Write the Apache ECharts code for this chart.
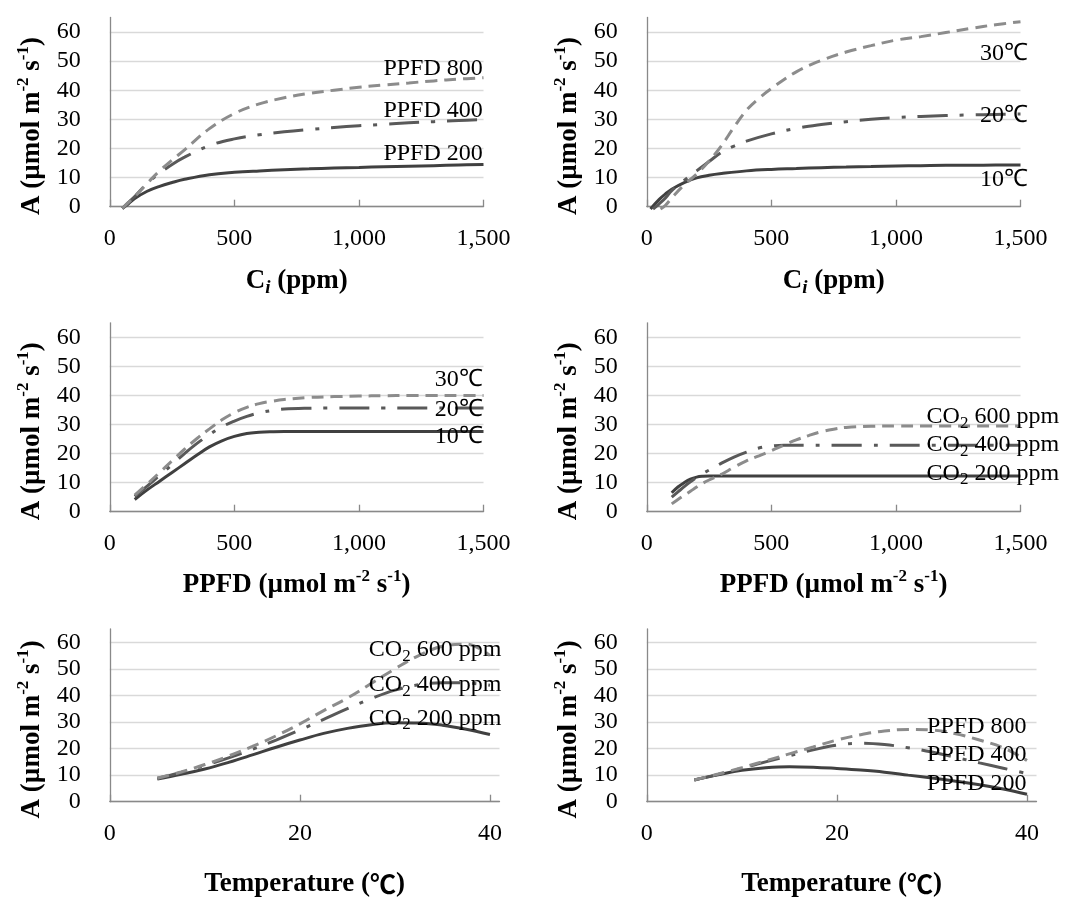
<!DOCTYPE html>
<html><head><meta charset="utf-8">
<script src="https://cdn.jsdelivr.net/npm/echarts@6/dist/echarts.min.js"></script>
<style>html,body{margin:0;padding:0;background:#fff}#c{width:1074px;height:900px}</style>
</head><body><div id="c"></div>
<script>
// ---------- DATA ----------
// Panel a: A vs Ci at three PPFD levels
const ciA      = [50, 75, 100, 150, 200, 250, 300, 400, 500, 600, 700, 800, 900, 1000, 1100, 1200, 1300, 1400, 1500];
const aPPFD200 = [-0.6, 1.0, 2.8, 5.3, 7.0, 8.3, 9.4, 11.0, 11.8, 12.3, 12.7, 13.0, 13.3, 13.5, 13.7, 13.9, 14.1, 14.3, 14.5];
const aPPFD400 = [-0.6, 1.5, 3.5, 8.0, 11.5, 14.5, 17.0, 21.0, 23.3, 24.7, 25.7, 26.5, 27.2, 27.8, 28.3, 28.8, 29.2, 29.6, 29.9];
const aPPFD800 = [-0.6, 1.5, 3.5, 8.0, 12.3, 16.0, 19.5, 26.8, 32.0, 35.3, 37.4, 38.9, 40.0, 41.0, 41.8, 42.5, 43.2, 43.8, 44.3];
const labelsA  = ['PPFD 200', 'PPFD 400', 'PPFD 800'];
const labelYA  = [18.3, 33.1, 47.4];

// Panel b: A vs Ci at three temperatures
const ciB10 = [15, 50, 75, 100, 150, 200, 250, 300, 400, 500, 600, 700, 800, 900, 1000, 1100, 1200, 1300, 1400, 1500];
const bT10  = [-0.8, 2.5, 4.4, 6.0, 8.3, 9.9, 10.8, 11.4, 12.3, 12.8, 13.1, 13.4, 13.6, 13.8, 14.0, 14.1, 14.2, 14.2, 14.3, 14.3];
const ciB20 = [25, 50, 75, 100, 150, 200, 250, 300, 350, 400, 500, 600, 700, 800, 900, 1000, 1100, 1200, 1300, 1400, 1500];
const bT20  = [-0.8, 1.0, 3.0, 5.5, 9.0, 12.3, 15.5, 18.7, 20.8, 22.5, 25.0, 26.9, 28.2, 29.2, 30.0, 30.6, 31.0, 31.3, 31.5, 31.7, 31.8];
const ciB30 = [55, 75, 100, 150, 200, 250, 300, 350, 400, 450, 500, 600, 700, 800, 900, 1000, 1100, 1200, 1300, 1400, 1500];
const bT30  = [-0.8, 0.5, 3.0, 7.5, 11.2, 15.7, 21.0, 27.3, 33.1, 37.2, 40.6, 46.3, 50.2, 53.1, 55.3, 57.2, 58.4, 59.8, 61.2, 62.5, 63.5];
const labelsB = ['10℃', '20℃', '30℃'];
const labelYB = [9.1, 31.4, 52.6];

// Panel c: A vs PPFD at three temperatures
const ppfdC = [100, 150, 200, 250, 300, 350, 400, 450, 500, 550, 600, 650, 700, 800, 900, 1000, 1100, 1200, 1300, 1400, 1500];
const cT10  = [4.2, 7.5, 10.5, 13.5, 16.5, 19.5, 22.3, 24.4, 25.9, 26.9, 27.3, 27.5, 27.6, 27.6, 27.6, 27.6, 27.6, 27.6, 27.6, 27.6, 27.6];
const cT20  = [5.3, 8.8, 12.5, 16.2, 20.0, 23.5, 26.5, 29.2, 31.2, 32.8, 34.0, 34.8, 35.3, 35.6, 35.7, 35.7, 35.7, 35.7, 35.7, 35.7, 35.7];
const cT30  = [5.7, 9.5, 13.5, 17.5, 21.5, 25.2, 28.5, 31.6, 34.1, 35.9, 37.2, 38.0, 38.6, 39.3, 39.6, 39.8, 39.9, 40.0, 40.0, 40.0, 40.0];
const labelsC = ['10℃', '20℃', '30℃'];
const labelYC = [25.8, 35.0, 45.3];

// Panel d: A vs PPFD at three CO2 levels
const ppfdD    = [100, 125, 150, 175, 200, 225, 250, 300, 350, 400, 450, 500, 550, 600, 650, 700, 750, 800, 900, 1000, 1100, 1200, 1300, 1400, 1500];
const dCO2_200 = [6.5, 8.5, 10.0, 11.2, 11.9, 12.2, 12.3, 12.3, 12.3, 12.3, 12.3, 12.3, 12.3, 12.3, 12.3, 12.3, 12.3, 12.3, 12.3, 12.3, 12.3, 12.3, 12.3, 12.3, 12.3];
const dCO2_400 = [5.0, 6.8, 8.6, 10.3, 11.8, 13.2, 14.3, 16.7, 18.8, 20.5, 21.9, 22.6, 22.9, 22.9, 22.9, 22.9, 22.9, 22.9, 22.9, 22.9, 22.9, 22.9, 22.9, 22.9, 22.9];
const dCO2_600 = [2.7, 4.2, 5.6, 7.0, 8.5, 9.8, 10.9, 12.9, 15.3, 17.5, 19.2, 21.0, 22.9, 24.7, 26.2, 27.5, 28.4, 29.0, 29.4, 29.5, 29.5, 29.5, 29.5, 29.5, 29.5];
const labelsD = ['CO2 200 ppm', 'CO2 400 ppm', 'CO2 600 ppm'];
const labelYD = [13.2, 23.0, 32.7];

// Panel e: A vs temperature at three CO2 levels
const tempE    = [5, 7.5, 10, 12.5, 15, 17.5, 20, 22.5, 25, 27.5, 30, 32.5, 35, 37.5, 40];
const eCO2_200 = [8.5, 10.3, 12.3, 14.8, 17.6, 20.5, 23.2, 25.7, 27.6, 29.0, 29.7, 29.6, 28.8, 27.3, 25.3];
const eCO2_400 = [8.8, 11.0, 13.6, 16.5, 19.7, 23.2, 27.0, 31.0, 35.0, 38.8, 42.0, 44.0, 44.8, 44.7, 43.8];
const eCO2_600 = [8.8, 11.2, 14.0, 17.2, 20.8, 24.8, 29.3, 34.3, 39.0, 44.5, 50.0, 55.0, 58.5, 59.3, 55.0];
const labelsE = ['CO2 200 ppm', 'CO2 400 ppm', 'CO2 600 ppm'];
const labelYE = [31.4, 43.9, 57.1];

// Panel f: A vs temperature at three PPFD levels
const tempF    = [5, 7.5, 10, 12.5, 15, 17.5, 20, 22.5, 25, 27.5, 30, 32.5, 35, 37.5, 40];
const fPPFD200 = [8.2, 10.1, 11.8, 12.8, 13.2, 13.0, 12.5, 11.9, 11.1, 10.0, 8.9, 7.7, 6.4, 4.8, 2.8];
const fPPFD400 = [8.2, 10.3, 12.6, 15.0, 17.3, 19.5, 21.3, 22.0, 21.5, 20.3, 18.7, 16.7, 14.6, 12.6, 10.6];
const fPPFD800 = [8.2, 10.4, 12.8, 15.4, 18.0, 20.6, 23.2, 25.2, 26.6, 27.2, 27.0, 25.6, 23.2, 20.3, 15.5];
const labelsF = ['PPFD 200', 'PPFD 400', 'PPFD 800'];
const labelYF = [6.9, 17.6, 28.2];

// Axis tick labels / ranges
const yTicks = [0, 10, 20, 30, 40, 50, 60];
const xTicksPPFD = [0, 500, 1000, 1500];
const xTicksTemp = [0, 20, 40];

// ---------- LAYOUT / STYLE ----------
const FONT = 'Liberation Serif';
const styles = [
  {color: '#404040', type: 'solid'},
  {color: '#595959', type: [30, 12, 4, 12]},
  {color: '#8c8c8c', type: [12, 7]}
];
const grids = [
  {left: 109.8, top: 17.4, width: 373.7, height: 189.3},
  {left: 646.8, top: 17.4, width: 373.7, height: 189.3},
  {left: 109.8, top: 322.8, width: 373.7, height: 188.9},
  {left: 646.8, top: 322.8, width: 373.7, height: 188.9},
  {left: 109.8, top: 629.0, width: 389.7, height: 172.7},
  {left: 646.8, top: 629.0, width: 389.7, height: 172.7}
];
const nameRich = {
  b:   {fontFamily: FONT, fontWeight: 'bold', fontSize: 27, lineHeight: 34, color: '#000'},
  sup: {fontFamily: FONT, fontWeight: 'bold', fontSize: 17, lineHeight: 18, verticalAlign: 'top', color: '#000'},
  sub: {fontFamily: FONT, fontWeight: 'bold', fontStyle: 'italic', fontSize: 19, lineHeight: 16, verticalAlign: 'bottom', color: '#000'},
  deg: {fontFamily: 'Noto Sans CJK JP', fontWeight: 'bold', fontSize: 26, lineHeight: 34, color: '#000'}
};
const labelRich = {
  n: {fontFamily: FONT, fontSize: 24, lineHeight: 30, color: '#000'},
  s: {fontFamily: FONT, fontSize: 17, lineHeight: 15, verticalAlign: 'bottom', color: '#000'}
};
function richLabel(t) {
  if (t.indexOf('CO2') === 0) return '{n|CO}{s|2}{n|' + t.slice(3) + '}';
  return '{n|' + t + '}';
}
const yName = '{b|A (µmol m}{sup|-2}{b| s}{sup|-1}{b|)}';
const xNames = [
  '{b|C}{sub|i}{b| (ppm)}', '{b|C}{sub|i}{b| (ppm)}',
  '{b|PPFD (µmol m}{sup|-2}{b| s}{sup|-1}{b|)}', '{b|PPFD (µmol m}{sup|-2}{b| s}{sup|-1}{b|)}',
  '{b|Temperature (}{deg|℃}{b|)}', '{b|Temperature (}{deg|℃}{b|)}'
];
const panels = [
  {xs: [ciA, ciA, ciA], ys: [aPPFD200, aPPFD400, aPPFD800], labels: labelsA, labelY: labelYA, labelX: 1499, align: 'right'},
  {xs: [ciB10, ciB20, ciB30], ys: [bT10, bT20, bT30], labels: labelsB, labelY: labelYB, labelX: 1335, align: 'left'},
  {xs: [ppfdC, ppfdC, ppfdC], ys: [cT10, cT20, cT30], labels: labelsC, labelY: labelYC, labelX: 1499, align: 'right'},
  {xs: [ppfdD, ppfdD, ppfdD], ys: [dCO2_200, dCO2_400, dCO2_600], labels: labelsD, labelY: labelYD, labelX: 1121, align: 'left'},
  {xs: [tempE, tempE, tempE], ys: [eCO2_200, eCO2_400, eCO2_600], labels: labelsE, labelY: labelYE, labelX: 27.2, align: 'left'},
  {xs: [tempF, tempF, tempF], ys: [fPPFD200, fPPFD400, fPPFD800], labels: labelsF, labelY: labelYF, labelX: 40, align: 'right'}
];

const AX = '#898989';
const xAxis = [], yAxis = [], series = [];
panels.forEach((p, i) => {
  const isTemp = i >= 4;
  const xt = isTemp ? xTicksTemp : xTicksPPFD;
  xAxis.push({
    type: 'value', gridIndex: i, min: 0,
    max: isTemp ? 41 : xt[xt.length - 1],
    interval: xt[1] - xt[0],
    axisLine: {show: true, onZero: false, lineStyle: {color: AX, width: 1.3}},
    axisTick: {show: true, inside: true, length: 7, lineStyle: {color: AX, width: 1.3}, customValues: xt},
    axisLabel: {fontFamily: FONT, fontSize: 24, color: '#000', margin: 20,
      customValues: xt,
      formatter: v => Number(v).toLocaleString('en-US')},
    splitLine: {show: false},
    name: xNames[i], nameLocation: 'middle', nameGap: isTemp ? 65 : (i < 2 ? 57 : 56),
    nameTextStyle: {rich: nameRich}
  });
  yAxis.push({
    type: 'value', gridIndex: i, min: 0, max: 65, interval: 10,
    axisLine: {show: true, onZero: false, lineStyle: {color: AX, width: 1.3}},
    axisTick: {show: false},
    axisLabel: {fontFamily: FONT, fontSize: 24, color: '#000', margin: 29, customValues: yTicks},
    splitLine: {show: true, showMaxLine: false, lineStyle: {color: '#d9d9d9', width: 1.3}},
    name: yName, nameLocation: 'middle', nameRotate: 90, nameGap: 61,
    nameTextStyle: {rich: nameRich, padding: [0, 28, 0, 0]}
  });
  p.ys.forEach((ys, k) => {
    const xs = p.xs[k];
    series.push({
      type: 'line', xAxisIndex: i, yAxisIndex: i,
      data: xs.map((x, j) => [x, ys[j]]),
      showSymbol: false, smooth: 0.4, clip: false,
      lineStyle: {color: styles[k].color, width: 3, type: styles[k].type, cap: 'butt'},
      itemStyle: {color: styles[k].color},
      z: 2 + k,
      markPoint: {
        symbol: 'circle', symbolSize: 1, silent: true, animation: false,
        itemStyle: {color: 'rgba(0,0,0,0)'},
        data: [{
          coord: [p.labelX, p.labelY[k]],
          label: {show: true, position: p.align === 'right' ? 'left' : 'right', distance: 0,
            formatter: richLabel(p.labels[k]), rich: labelRich}
        }]
      }
    });
  });
});

const chart = echarts.init(document.getElementById('c'), null, {renderer: 'canvas'});
chart.setOption({
  animation: false,
  backgroundColor: '#fff',
  grid: grids.map(g => Object.assign({containLabel: false}, g)),
  xAxis, yAxis, series
});
</script>
</body></html>
